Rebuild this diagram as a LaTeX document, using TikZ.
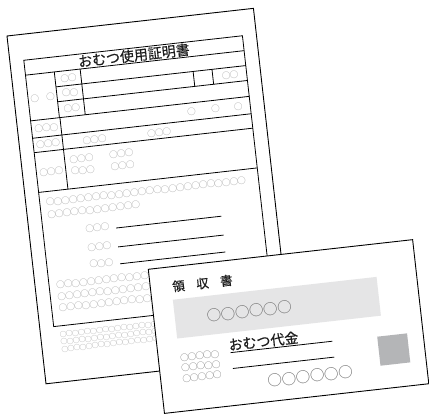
\documentclass[tikz,border=0pt]{standalone}
\usepackage{fontspec}
\newfontfamily\jpfont{Noto Sans CJK JP}
\newfontfamily\jpbold[FakeBold=0.5]{Noto Sans CJK JP}
\ExplSyntaxOn
\cs_new:Npn \ocircs #1 #2 { \prg_replicate:nn {#1} { ○\kern #2 } }
\ExplSyntaxOff
\definecolor{cgray}{HTML}{9C9C9C}
\definecolor{rgray}{HTML}{6E6E6E}
\definecolor{band}{HTML}{E5E5E6}
\definecolor{sq}{HTML}{B4B5B7}
\definecolor{ink}{HTML}{1E1E1E}
\tikzset{
  sheet/.style={draw=black, fill=white, line width=0.9pt},
  rule/.style={draw=black, line width=0.8pt},
  ttl/.style={inner sep=0pt, text=ink, font=\jpbold\fontsize{14}{14}\selectfont},
  sc/.style={inner sep=0pt, text=cgray, font=\jpfont\fontsize{8.6}{9}\selectfont},
  tinyc/.style={inner sep=0pt, text=cgray, font=\jpfont\fontsize{6.9}{7}\selectfont},
  rt/.style={inner sep=0pt, text=ink, font=\jpbold\fontsize{12.5}{12.5}\selectfont},
  rc/.style={inner sep=0pt, text=rgray, font=\jpfont\fontsize{14.6}{14.6}\selectfont},
  rsc/.style={inner sep=0pt, text=rgray, font=\jpfont\fontsize{8.6}{9}\selectfont},
}
\newcommand\sm[1]{\ocircs{#1}{-0.9pt}}
\newcommand\tn[1]{\ocircs{#1}{-0.8pt}}
\newcommand\bg[1]{\ocircs{#1}{-0.4pt}}
\begin{document}
\begin{tikzpicture}[x=1pt,y=-1pt]
\useasboundingbox (0,0) rectangle (429,414);
\fill[white] (0,0) rectangle (429,414);
% ---------------- certificate sheet ----------------
\begin{scope}[shift={(7,36)}, rotate=6.4, transform shape]
  \path[sheet] (0,0) rectangle (248,350);
  \path[rule] (14,26) rectangle (234,294);
  \draw[rule] (14,41) -- (234,41);
  \node[ttl] (title) at (124,33.5) {おむつ使用証明書};
  % rows 1-3
  \draw[rule] (43,56) -- (234,56);
  \draw[rule] (43,71) -- (234,71);
  \draw[rule] (14,87) -- (234,87);
  \draw[rule] (43,41) -- (43,87);
  \draw[rule] (69,41) -- (69,87);
  \draw[rule] (181,56) -- (181,71);
  \draw[rule] (200,56) -- (200,71);
  \node[sc] (m0) at (28.5,65) {○\hspace{7.2pt}○};
  \node[sc] (m1) at (56,48.5) {\sm{2}};
  \node[sc] (m2) at (56,63.5) {\sm{2}};
  \node[sc] (m3) at (56,79) {\sm{2}};
  \node[sc] (m4) at (217,63.5) {\sm{2}};
  % rows 4-6
  \draw[rule] (14,104.5) -- (234,104.5);
  \draw[rule] (14,119) -- (234,119);
  \draw[rule] (14,159) -- (234,159);
  \draw[rule] (43.5,87) -- (43.5,159);
  \node[sc] (r4a) at (28.5,96) {\sm{3}};
  \node[sc] (r4b) at (175,96) {○};
  \node[sc] (r4c) at (199,96) {○};
  \node[sc] (r4d) at (222,96) {○};
  \node[sc] (r5a) at (28.5,112) {\sm{3}};
  \node[sc] (r5b) at (75,113) {\sm{3}};
  \node[sc] (r5c) at (140,113) {\sm{3}};
  \node[sc] (r6a) at (28.5,140) {\sm{3}};
  \node[sc] (r6b) at (60,130) {\sm{3}};
  \node[sc] (r6c) at (100,130) {\sm{3}};
  \node[sc] (r6d) at (60,142) {\sm{3}};
  \node[sc] (r6e) at (100,142) {\sm{3}};
  % body text
  \node[sc, anchor=west] (b1) at (20,170) {\sm{26}};
  \node[sc, anchor=west] (b2) at (20,182.5) {\sm{12}};
  \node[sc] (f1) at (68,200.5) {\sm{3}};
  \node[sc] (f2) at (68,219.5) {\sm{3}};
  \node[sc] (f3) at (68,236.5) {\sm{3}};
  \coordinate (l1a) at (87,203); \coordinate (l1b) at (193,203);
  \coordinate (l2a) at (87,222); \coordinate (l2b) at (193,222);
  \coordinate (l3a) at (87,239); \coordinate (l3b) at (193,239);
  \draw[rule] (l1a) -- (l1b);
  \draw[rule] (l2a) -- (l2b);
  \draw[rule] (l3a) -- (l3b);
  \node[sc, anchor=west] (b3) at (21,253.5) {\sm{13}};
  \node[sc, anchor=west] (b4) at (21,265) {\sm{13}};
  \node[sc, anchor=west] (b5) at (21,276.5) {\sm{13}};
  % fine print below frame
  \node[tinyc, anchor=west] (s1) at (19,303) {\tn{17}};
  \node[tinyc, anchor=west] (s2) at (19,310.3) {\tn{17}};
  \node[tinyc, anchor=west] (s3) at (19,317.6) {\tn{17}};
\end{scope}
% ---------------- receipt ----------------
\begin{scope}[shift={(148.3,269.3)}, rotate=6.4, transform shape]
  \path[sheet] (0,0) rectangle (266,145);
  \node[rt] (rtitle) at (52.3,20) {領\hspace{0.92em}収\hspace{0.92em}書};
  \fill[band] (21,33) rectangle (226,72);
  \node[rc] (name) at (95.4,53) {\bg{6}};
  \node[ttl] (item) at (106.5,84.3) {おむつ代金};
  \coordinate (u1a) at (72.6,92); \coordinate (u1b) at (175,92);
  \coordinate (u2a) at (73,108); \coordinate (u2b) at (175,108);
  \draw[rule] (u1a) -- (u1b);
  \draw[rule] (u2a) -- (u2b);
  \node[rsc] (k1) at (41,92) {\sm{5}};
  \node[rsc] (k2) at (41,102.2) {\sm{5}};
  \node[rsc] (k3) at (41,112.6) {\sm{5}};
  \node[rc] (amount) at (148.7,124.5) {\bg{6}};
  \fill[sq] (220,92.5) rectangle (250,121.7);
\end{scope}
\end{tikzpicture}
\end{document}
